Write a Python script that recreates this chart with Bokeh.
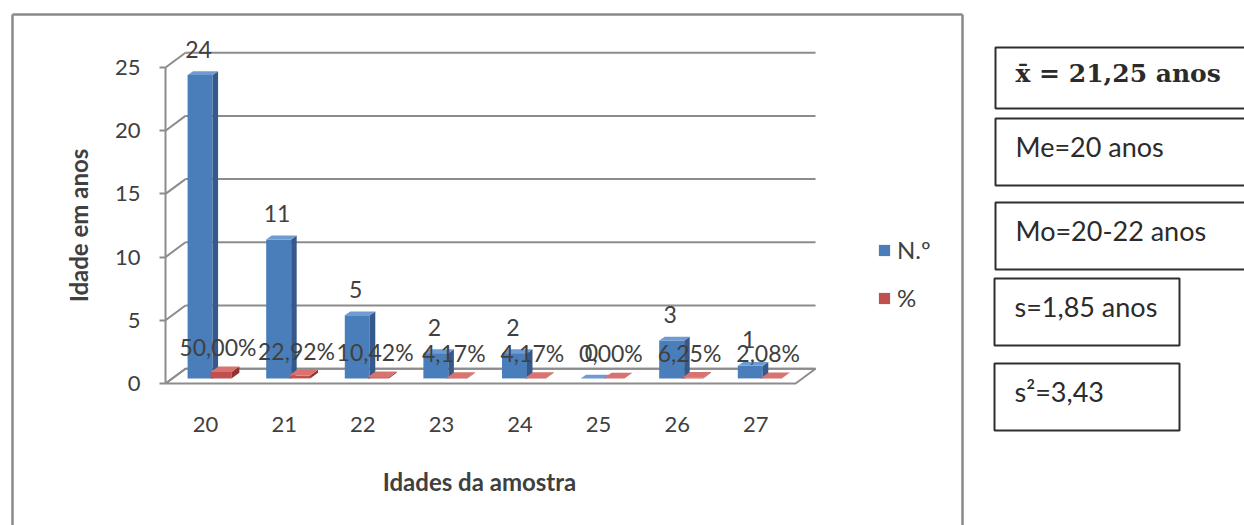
import numpy as np
from bokeh.plotting import figure
from bokeh.models import (FixedTicker, Legend, LegendItem, Range1d, LinearAxis)
from bokeh.embed import file_html
from bokeh.resources import INLINE
from bokeh.core.properties import value

# ---------------- data ----------------
ages = [20, 21, 22, 23, 24, 25, 26, 27]
counts = [24, 11, 5, 2, 2, 0, 3, 1]
percents = [50.00, 22.92, 10.42, 4.17, 4.17, 0.00, 6.25, 2.08]
count_labels = ["24", "11", "5", "2", "2", "0", "3", "1"]
percent_labels = ["50,00%", "22,92%", "10,42%", "4,17%", "4,17%", "0,00%", "6,25%", "2,08%"]
y_ticks = [0, 5, 10, 15, 20, 25]
series_names = ["N.º", "%"]
stats_lines = ["x̄ = 21,25 anos", "Me=20 anos", "Mo=20-22 anos", "s=1,85 anos", "s²=3,43"]
x_title = "Idades da amostra"
y_title = "Idade em anos"

# ---------------- style ----------------
FONT = "Lato"
TXT = "#404040"
GRID = "#8c8c8c"
BLUE, BLUE_SIDE, BLUE_TOP = "#4a7ebb", "#34598a", "#6e9bd2"
RED, RED_SIDE, RED_TOP = "#c0504d", "#8c3533", "#d8736f"

OX, OY = 0, 0               # page position of the canvas
W, H = 1244, 525
PX = 78.6                   # pixels per category unit
PY = 12.64                  # pixels per count unit
AX_X, AX_Y = 165, 383       # page position of the front-left floor corner

# 3D projection constants (data units)
DX, DY = 0.254, 1.17        # depth of floor / back wall
B0 = 0.4                    # bars sit slightly behind the front edge
X0 = 19.49                  # front-left corner of floor
X1 = 27.506                 # front-right corner of floor

xr = Range1d(X0 - (AX_X - OX) / PX, X0 + (OX + W - AX_X) / PX)
yr = Range1d(-(OY + H - AX_Y) / PY, (AX_Y - OY) / PY)

p = figure(width=W, height=H, x_range=xr, y_range=yr, output_backend="svg",
           toolbar_location=None, min_border=0, outline_line_color=None,
           x_axis_type=None, y_axis_type=None,
           background_fill_color="white", border_fill_color="white")
p.grid.visible = False
p.extra_x_ranges = {"px": Range1d(OX, OX + W)}
p.extra_y_ranges = {"px": Range1d(OY + H, OY)}

ages_a = np.array(ages, dtype=float)
cnt = np.array(counts, dtype=float)
pct = np.array(percents, dtype=float) / 100.0

# chart border (page pixels)
p.segment(x0=[12, 12, 962], y0=[14, 14, 14], x1=[12, 962, 962], y1=[540, 14, 540],
          x_range_name="px", y_range_name="px", line_color="#8a8a8a", line_width=2.5)

# floor
p.patch([X0, X1, X1 + DX, X0 + DX], [0, 0, DY, DY], fill_color="white",
        line_color=GRID, line_width=2)
# back-wall gridlines
gx0 = [X0 + DX] * len(y_ticks)
gx1 = [X1 + DX] * len(y_ticks)
gy = [t + DY for t in y_ticks]
p.segment(gx0, gy, gx1, gy, line_color=GRID, line_width=2)
# side connectors from the front axis to the back wall
p.segment([X0] * len(y_ticks), y_ticks, gx0, gy, line_color=GRID, line_width=2)


def bars(left, right, vals, front, side, top, bdx, bdy):
    bottom = np.full_like(vals, B0)
    tops = B0 + vals
    fr = p.quad(left=left, right=right, bottom=bottom, top=tops, fill_color=front,
                line_color=None)
    sxs = [[r, r + bdx, r + bdx, r] for r in right]
    sys = [[b, b + bdy, t + bdy, t] for b, t in zip(bottom, tops)]
    p.patches(sxs, sys, fill_color=side, line_color=None)
    txs = [[l, r, r + bdx, l + bdx] for l, r in zip(left, right)]
    tys = [[t, t, t + bdy, t + bdy] for t in tops]
    p.patches(txs, tys, fill_color=top, line_color=None)
    return fr


blue_l, blue_r = ages_a - 0.229, ages_a + 0.089
red_l, red_r = ages_a + 0.064, ages_a + 0.33
blue = bars(blue_l, blue_r, cnt, BLUE, BLUE_SIDE, BLUE_TOP, 0.07, 0.30)
red = bars(red_l, red_r, pct, RED, RED_SIDE, RED_TOP, 0.10, 0.45)

# data labels
p.text(x=(blue_l + blue_r) / 2 - 0.02, y=B0 + cnt, text=count_labels, text_align="center",
       text_baseline="middle", y_offset=-26, text_font=value(FONT), text_font_size="23px",
       text_color=TXT)
p.text(x=(red_l + red_r) / 2 - 0.04, y=B0 + pct, text=percent_labels, text_align="center",
       text_baseline="middle", y_offset=-25, text_font=value(FONT), text_font_size="23px",
       text_color=TXT)

# axes (placed inside the single frame)
ya = LinearAxis(ticker=FixedTicker(ticks=y_ticks), fixed_location=X0, bounds=(0, 25))
ya.axis_line_color = GRID
ya.axis_line_width = 2
ya.major_tick_out = 6
ya.major_tick_in = 0
ya.major_tick_line_color = GRID
ya.major_tick_line_width = 2
ya.minor_tick_line_color = None
ya.major_label_standoff = 19
ya.major_label_text_font = FONT
ya.major_label_text_font_size = "22px"
ya.major_label_text_color = TXT
p.add_layout(ya, "left")

xa = LinearAxis(ticker=FixedTicker(ticks=ages), fixed_location=-(412 - AX_Y) / PY)
xa.axis_line_color = None
xa.major_tick_line_color = None
xa.minor_tick_line_color = None
xa.major_tick_out = 0
xa.major_tick_in = 0
xa.major_label_standoff = 4
xa.major_label_text_font = FONT
xa.major_label_text_font_size = "22px"
xa.major_label_text_color = TXT
p.add_layout(xa, "below")

# axis titles
p.text(x=[78], y=[225], text=[y_title], angle=np.pi / 2, text_align="center",
       text_baseline="middle", x_range_name="px", y_range_name="px",
       text_font=value(FONT), text_font_style="bold", text_font_size="24px", text_color=TXT)
p.text(x=[479], y=[481], text=[x_title], text_align="center", text_baseline="middle",
       x_range_name="px", y_range_name="px",
       text_font=value(FONT), text_font_style="bold", text_font_size="24px", text_color=TXT)

legend = Legend(items=[LegendItem(label=series_names[0], renderers=[blue]),
                       LegendItem(label=series_names[1], renderers=[red])],
                location=(877 - OX, 213), border_line_color=None, background_fill_alpha=0,
                padding=0, margin=0, glyph_width=14, glyph_height=14, label_height=20,
                spacing=19, label_standoff=6, label_text_font=FONT,
                label_text_font_size="24px", label_text_color=TXT)
p.add_layout(legend)

# ---------------- statistics boxes (page pixels) ----------------
box_left = [995, 995, 995, 994, 994]
box_right = [1262, 1262, 1262, 1179, 1179]
box_top = [47, 118, 202, 278, 363]
box_bottom = [108, 185, 269, 345, 430]
p.quad(left=box_left, right=box_right, top=box_top, bottom=box_bottom, fill_color="white",
       line_color="#2e2e2e", line_width=2, x_range_name="px", y_range_name="px")
ty = [t + 0.42 * (b - t) for t, b in zip(box_top, box_bottom)]
tx = [v + 20 for v in box_left]
p.text(x=tx[:1], y=ty[:1], text=stats_lines[:1], text_baseline="middle",
       x_range_name="px", y_range_name="px",
       text_font=value("DejaVu Serif"), text_font_style="bold", text_font_size="25px",
       text_color="#2b2b2b")
p.text(x=tx[1:], y=ty[1:], text=stats_lines[1:], text_baseline="middle",
       x_range_name="px", y_range_name="px",
       text_font=value(FONT), text_font_size="27px", text_color="#2b2b2b")

open("out.html", "w").write(file_html(p, INLINE))
